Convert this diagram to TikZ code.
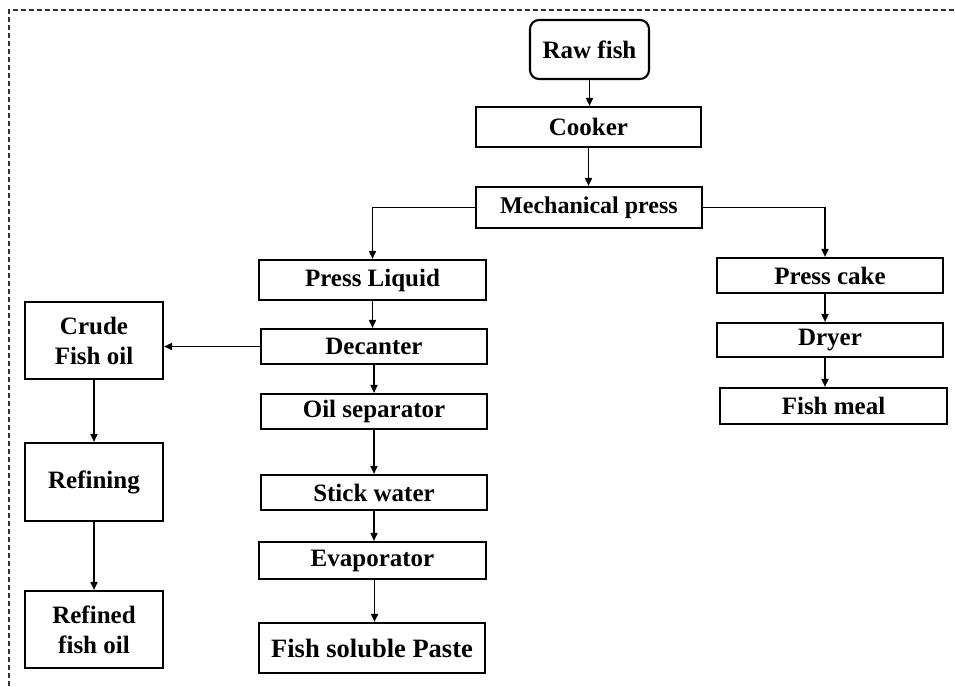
\documentclass[tikz,border=0pt]{standalone}
\usepackage{fontspec}
\setmainfont{Liberation Serif}
\usetikzlibrary{arrows.meta}
\begin{document}
\begin{tikzpicture}[x=1pt,y=-1pt,
  box/.style={draw=black,line width=2.1pt,inner sep=0pt,align=center,
    font=\fontsize{25}{30}\selectfont\bfseries},
  arr/.style={draw=black,line width=1.6pt,-{Triangle[length=8pt,width=7pt]}},
  border/.style={draw=black!80,line width=1.1pt,dash pattern=on 5pt off 3pt}]
\useasboundingbox (0,0) rectangle (955,686);
\draw[border] (9,686) -- (9,10) -- (955,10);
% nodes
\node[box,rounded corners=9pt,minimum width=119pt,minimum height=59pt] (raw) at (589.5,49.5) {Raw fish};
\node[box,minimum width=225pt,minimum height=40pt] (cook) at (588.5,127) {Cooker};
\node[box,minimum width=226pt,minimum height=41pt,font=\fontsize{24}{28}\selectfont\bfseries] (mech) at (589,207.5) {Mechanical press};
\node[box,minimum width=227pt,minimum height=40pt] (pl) at (372.5,280) {Press Liquid};
\node[box,minimum width=226pt,minimum height=35pt] (dec) at (374,346.5) {Decanter};
\node[box,minimum width=226pt,minimum height=35pt] (oil) at (374,411.5) {Oil separator};
\node[box,minimum width=226pt,minimum height=35pt] (stick) at (374,492.5) {Stick water};
\node[box,minimum width=227pt,minimum height=37pt] (evap) at (372.5,560.5) {Evaporator};
\node[box,minimum width=226pt,minimum height=50pt,font=\fontsize{26.5}{30}\selectfont\bfseries] (fsp) at (372,648) {Fish soluble Paste};
\node[box,minimum width=138pt,minimum height=77pt] (crude) at (94,340.5) {Crude\\Fish oil};
\node[box,minimum width=138pt,minimum height=78pt] (ref) at (94,482) {Refining};
\node[box,minimum width=138pt,minimum height=77pt] (refd) at (94,629.5) {Refined\\fish oil};
\node[box,minimum width=226pt,minimum height=35pt] (pc) at (830,275.5) {Press cake};
\node[box,minimum width=226pt,minimum height=34pt] (dry) at (830,340) {Dryer};
\node[box,minimum width=227pt,minimum height=36pt] (fm) at (833.5,406) {Fish meal};
% connectors
\draw[arr] (raw.south) -- (raw.south |- cook.north);
\draw[arr] (cook.south) -- (cook.south |- mech.north);
\draw[arr] (mech.west) -| (pl.north);
\draw[arr] (mech.east) -| ([xshift=-5pt]pc.north);
\draw[arr] (pl.south) -- (pl.south |- dec.north);
\draw[arr] (dec.south) -- (dec.south |- oil.north);
\draw[arr] (oil.south) -- (oil.south |- stick.north);
\draw[arr] (stick.south) -- (stick.south |- evap.north);
\draw[arr] ([xshift=2pt]evap.south) -- ([xshift=2pt]evap.south |- fsp.north);
\draw[arr] (dec.west) -- (dec.west -| crude.east);
\draw[arr] (crude.south) -- (crude.south |- ref.north);
\draw[arr] (ref.south) -- (ref.south |- refd.north);
\draw[arr] ([xshift=-5pt]pc.south) -- ([xshift=-5pt]pc.south |- dry.north);
\draw[arr] ([xshift=-5pt]dry.south) -- ([xshift=-5pt]dry.south |- fm.north);
\end{tikzpicture}
\end{document}
